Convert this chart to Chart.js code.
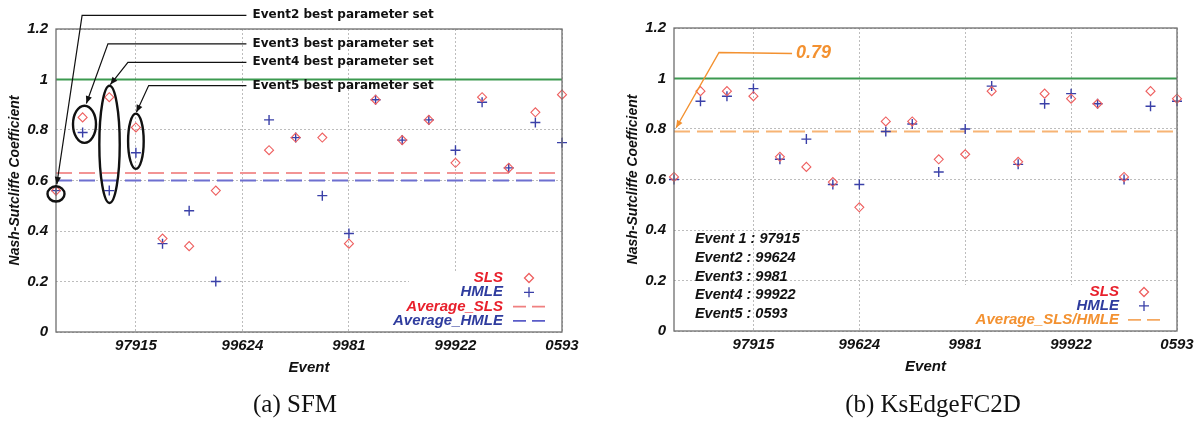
<!DOCTYPE html>
<html>
<head>
<meta charset="utf-8">
<script src="https://cdn.jsdelivr.net/npm/chart.js@4/dist/chart.umd.min.js"></script>
<style>
  body { margin: 0; background: #fff; }
  #wrap { position: relative; width: 1202px; height: 421px; overflow: hidden; }
  canvas { position: absolute; top: 0; }
  #cvLeft { left: 0; }
  #cvRight { left: 600px; }
  .cap { position: absolute; top: 390px; font-family: "Liberation Serif", serif; font-size: 25px; line-height: 28px; color: #111; transform: translateX(-50%); white-space: nowrap; }
</style>
</head>
<body>
<div id="wrap">
  <canvas id="cvLeft" width="600" height="421"></canvas>
  <canvas id="cvRight" width="602" height="421"></canvas>
  <div class="cap" style="left:295px">(a) SFM</div>
  <div class="cap" style="left:933px">(b) KsEdgeFC2D</div>
</div>
<script>
// event index on the x axis, tick labels at every 4th event
const events = [1, 2, 3, 4, 5, 6, 7, 8, 9, 10, 11, 12, 13, 14, 15, 16, 17, 18, 19, 20];
const xTickPos = [4, 8, 12, 16, 20];
const xTickLabels = ['97915', '99624', '9981', '99922', '0593'];
const yTickPos = [0, 0.2, 0.4, 0.6, 0.8, 1, 1.2];
const yTickLabels = ['0', '0.2', '0.4', '0.6', '0.8', '1', '1.2'];

// (a) SFM
const sfmSLS  = [0.56, 0.85, 0.93, 0.81, 0.37, 0.34, 0.56, null, 0.72, 0.77, 0.77, 0.35, 0.92, 0.76, 0.84, 0.67, 0.93, 0.65, 0.87, 0.94];
const sfmHMLE = [0.56, 0.79, 0.56, 0.71, 0.35, 0.48, 0.20, null, 0.84, 0.77, 0.54, 0.39, 0.92, 0.76, 0.84, 0.72, 0.91, 0.65, 0.83, 0.75];
const sfmAvgSLS = 0.63;
const sfmAvgHMLE = 0.60;
const sfmNotes = ['Event2 best parameter set', 'Event3 best parameter set', 'Event4 best parameter set', 'Event5 best parameter set'];

// (b) KsEdgeFC2D
const ksSLS  = [0.61, 0.95, 0.95, 0.93, 0.69, 0.65, 0.59, 0.49, 0.83, 0.83, 0.68, 0.70, 0.95, 0.67, 0.94, 0.92, 0.90, 0.61, 0.95, 0.92];
const ksHMLE = [0.60, 0.91, 0.93, 0.96, 0.68, 0.76, 0.58, 0.58, 0.79, 0.82, 0.63, 0.80, 0.97, 0.66, 0.90, 0.94, 0.90, 0.60, 0.89, 0.91];
const ksAvg = 0.79;
const ksEventNames = ['Event 1 : 97915', 'Event2 : 99624', 'Event3 : 9981', 'Event4 : 99922', 'Event5 : 0593'];

const perfect = 1;

const RED = '#ee5f5f', BLUE = '#3a40a8', GREEN = '#3c9a50', ORANGE = '#f39130';
const TXT_RED = '#e8202c', TXT_BLUE = '#2f3c9e';
const tickFont = { family: '"Liberation Sans", Arial, sans-serif', size: 15, weight: 'bold', style: 'italic' };

function pts(vals) {
  return vals.map((v, i) => ({ x: events[i], y: v })).filter(p => p.y !== null);
}
function flat(v) {
  return [{ x: events[0], y: v }, { x: events[events.length - 1], y: v }];
}

function drawMark(ctx, kind, x, y, color) {
  ctx.save();
  ctx.strokeStyle = color;
  ctx.lineWidth = 1.3;
  ctx.beginPath();
  if (kind === 'diamond') {
    ctx.moveTo(x, y - 4.5); ctx.lineTo(x + 4.5, y); ctx.lineTo(x, y + 4.5); ctx.lineTo(x - 4.5, y); ctx.closePath();
  } else if (kind === 'cross') {
    ctx.moveTo(x - 5, y); ctx.lineTo(x + 5, y); ctx.moveTo(x, y - 5); ctx.lineTo(x, y + 5);
  } else {
    ctx.lineWidth = 1.8;
    ctx.moveTo(x - 16, y); ctx.lineTo(x - 3, y); ctx.moveTo(x + 3, y); ctx.lineTo(x + 16, y);
  }
  ctx.stroke();
  ctx.restore();
}

function arrow(ctx, path, color, width, head) {
  ctx.save();
  ctx.strokeStyle = color; ctx.fillStyle = color; ctx.lineWidth = width;
  ctx.beginPath();
  ctx.moveTo(path[0][0], path[0][1]);
  for (let i = 1; i < path.length; i++) ctx.lineTo(path[i][0], path[i][1]);
  ctx.stroke();
  const [x1, y1] = path[path.length - 2], [x2, y2] = path[path.length - 1];
  const a = Math.atan2(y2 - y1, x2 - x1);
  ctx.beginPath();
  ctx.moveTo(x2, y2);
  ctx.lineTo(x2 - head * Math.cos(a - 0.4), y2 - head * Math.sin(a - 0.4));
  ctx.lineTo(x2 - head * Math.cos(a + 0.4), y2 - head * Math.sin(a + 0.4));
  ctx.closePath();
  ctx.fill();
  ctx.restore();
}

// legend box, frame and annotations
const decor = {
  id: 'decor',
  afterDraw(chart, args, o) {
    const { ctx, chartArea: ca, scales: { x, y } } = chart;
    ctx.save();
    // legend
    const lg = o.legend;
    ctx.fillStyle = '#fff';
    ctx.fillRect(ca.right + lg.boxLeft, ca.bottom + lg.boxTop, -lg.boxLeft, -lg.boxTop);
    ctx.font = 'italic bold 15px "Liberation Sans", Arial, sans-serif';
    ctx.textAlign = 'right';
    ctx.textBaseline = 'middle';
    lg.items.forEach((it, i) => {
      const yy = ca.bottom + lg.firstRow + i * lg.step;
      ctx.fillStyle = it.color;
      ctx.fillText(it.text, ca.right + lg.textRight, yy);
      drawMark(ctx, it.kind, ca.right + lg.markX, yy, it.mark);
    });
    // frame
    ctx.strokeStyle = '#6e6e6e';
    ctx.lineWidth = 1.3;
    ctx.strokeRect(ca.left, ca.top, ca.right - ca.left, ca.bottom - ca.top);

    // rings and call-outs
    (o.rings || []).forEach(r => {
      const cx = x.getPixelForValue(r[0]);
      const top = y.getPixelForValue(r[2]), bot = y.getPixelForValue(r[1]);
      ctx.strokeStyle = '#111';
      ctx.lineWidth = 2.4;
      ctx.beginPath();
      ctx.ellipse(cx, (top + bot) / 2, r[3], (bot - top) / 2, 0, 0, Math.PI * 2);
      ctx.stroke();
    });
    (o.callouts || []).forEach(c => {
      const ty = y.getPixelForValue(c.ty);
      const path = [[x.getPixelForValue(c.end), ty], [x.getPixelForValue(c.knee[0]), y.getPixelForValue(c.knee[1])],
        [x.getPixelForValue(c.tip[0]), y.getPixelForValue(c.tip[1])]];
      arrow(ctx, path, c.color, c.width, c.head);
      ctx.fillStyle = c.color;
      ctx.font = c.font;
      ctx.textAlign = 'left';
      ctx.textBaseline = 'middle';
      ctx.fillText(c.text, x.getPixelForValue(c.tx), ty);
    });
    if (o.list) {
      ctx.fillStyle = '#111';
      ctx.font = 'italic bold 14.5px "Liberation Sans", Arial, sans-serif';
      ctx.textAlign = 'left';
      ctx.textBaseline = 'middle';
      const x0 = x.getPixelForValue(o.list.x), y0 = y.getPixelForValue(o.list.y);
      o.list.lines.forEach((t, i) => ctx.fillText(t, x0, y0 + i * o.list.step));
    }
    ctx.restore();
  }
};

function scatterSet(label, vals, kind, color) {
  return {
    label, data: pts(vals), order: 0, clip: false, showLine: false,
    pointStyle: kind === 'diamond' ? 'rectRot' : 'cross',
    pointRadius: kind === 'diamond' ? 4.5 : 5,
    pointBorderColor: color, pointBackgroundColor: 'rgba(0,0,0,0)',
    pointBorderWidth: kind === 'diamond' ? 1.1 : 1.4
  };
}
function lineSet(label, v, color, dash) {
  return {
    label, type: 'line', data: flat(v), order: 1, borderColor: color, borderWidth: 2,
    borderDash: dash, pointRadius: 0, showLine: true, fill: false
  };
}

function makeOptions(pad, extra) {
  return {
    responsive: false,
    animation: false,
    devicePixelRatio: 1,
    layout: { padding: pad },
    plugins: { legend: { display: false }, tooltip: { enabled: false }, decor: extra },
    scales: {
      x: {
        type: 'linear', min: 1, max: 20,
        afterBuildTicks: ax => { ax.ticks = xTickPos.map(v => ({ value: v })); },
        afterFit: ax => { ax.height = 45; },
        ticks: { callback: (v, i) => xTickLabels[i], font: tickFont, color: '#111', padding: 5, maxRotation: 0 },
        grid: { color: '#bdbdbd', lineWidth: 1, drawTicks: false },
        border: { display: false, dash: [2, 2] },
        title: { display: true, text: 'Event', font: tickFont, color: '#111', padding: 0 }
      },
      y: {
        min: 0, max: 1.2,
        afterBuildTicks: ax => { ax.ticks = yTickPos.map(v => ({ value: v })); },
        afterFit: ax => { ax.width = 56; },
        ticks: { callback: (v, i) => yTickLabels[i], font: tickFont, color: '#111', padding: 8 },
        grid: { color: '#bdbdbd', lineWidth: 1, drawTicks: false },
        border: { display: false, dash: [2, 2] },
        title: { display: true, text: 'Nash-Sutcliffe Coefficient', color: '#111', padding: { top: 6.6, bottom: 0 },
          font: { family: '"Liberation Sans", Arial, sans-serif', size: 14, weight: 'bold', style: 'italic' } }
      }
    }
  };
}

const noteFont = 'bold 12px "DejaVu Sans", sans-serif';

new Chart(document.getElementById('cvLeft'), {
  type: 'scatter',
  data: {
    datasets: [
      scatterSet('SLS', sfmSLS, 'diamond', RED),
      scatterSet('HMLE', sfmHMLE, 'cross', BLUE),
      lineSet('NSE = 1', perfect, GREEN, []),
      lineSet('Average_SLS', sfmAvgSLS, '#f29494', [16, 7]),
      lineSet('Average_HMLE', sfmAvgHMLE, '#6d6fd0', [16, 7])
    ]
  },
  options: makeOptions({ left: 0, right: 38, top: 29, bottom: 44 }, {
    legend: {
      boxLeft: -153, boxTop: -61, textRight: -59, markX: -33, firstRow: -54, step: 14.3,
      items: [
        { text: 'SLS', color: TXT_RED, kind: 'diamond', mark: RED },
        { text: 'HMLE', color: TXT_BLUE, kind: 'cross', mark: BLUE },
        { text: 'Average_SLS', color: TXT_RED, kind: 'dash', mark: '#f08080' },
        { text: 'Average_HMLE', color: TXT_BLUE, kind: 'dash', mark: '#5a5cc8' }
      ]
    },
    rings: [[1, 0.517, 0.577, 8.5], [2.07, 0.749, 0.896, 11.5], [3.01, 0.511, 0.975, 10.2], [4.0, 0.646, 0.865, 7.8]],
    callouts: [
      { text: sfmNotes[0], ty: 1.254, tx: 8.38, end: 8.15, knee: [1.98, 1.254], tip: [1.03, 0.585], color: '#111', width: 1.2, head: 8, font: noteFont },
      { text: sfmNotes[1], ty: 1.141, tx: 8.38, end: 8.15, knee: [2.95, 1.141], tip: [2.14, 0.905], color: '#111', width: 1.2, head: 8, font: noteFont },
      { text: sfmNotes[2], ty: 1.068, tx: 8.38, end: 8.15, knee: [3.70, 1.068], tip: [3.04, 0.98], color: '#111', width: 1.2, head: 8, font: noteFont },
      { text: sfmNotes[3], ty: 0.976, tx: 8.38, end: 8.15, knee: [4.48, 0.976], tip: [4.02, 0.87], color: '#111', width: 1.2, head: 8, font: noteFont }
    ]
  }),
  plugins: [decor]
});

new Chart(document.getElementById('cvRight'), {
  type: 'scatter',
  data: {
    datasets: [
      scatterSet('SLS', ksSLS, 'diamond', RED),
      scatterSet('HMLE', ksHMLE, 'cross', BLUE),
      lineSet('NSE = 1', perfect, GREEN, []),
      lineSet('Average_SLS/HMLE', ksAvg, '#f7b474', [16, 7])
    ]
  },
  options: makeOptions({ left: 18, right: 25, top: 28, bottom: 45 }, {
    legend: {
      boxLeft: -212, boxTop: -46, textRight: -58, markX: -33, firstRow: -39, step: 13.9,
      items: [
        { text: 'SLS', color: TXT_RED, kind: 'diamond', mark: RED },
        { text: 'HMLE', color: TXT_BLUE, kind: 'cross', mark: BLUE },
        { text: 'Average_SLS/HMLE', color: ORANGE, kind: 'dash', mark: '#f5a860' }
      ]
    },
    callouts: [
      { text: String(ksAvg), ty: 1.099, tx: 5.61, end: 5.46, knee: [2.70, 1.103], tip: [1.08, 0.805], color: ORANGE, width: 1.4, head: 8,
        font: 'italic bold 18px "Liberation Sans", Arial, sans-serif' }
    ],
    list: { x: 1.79, y: 0.363, step: 18.7, lines: ksEventNames }
  }),
  plugins: [decor]
});
</script>
</body>
</html>
